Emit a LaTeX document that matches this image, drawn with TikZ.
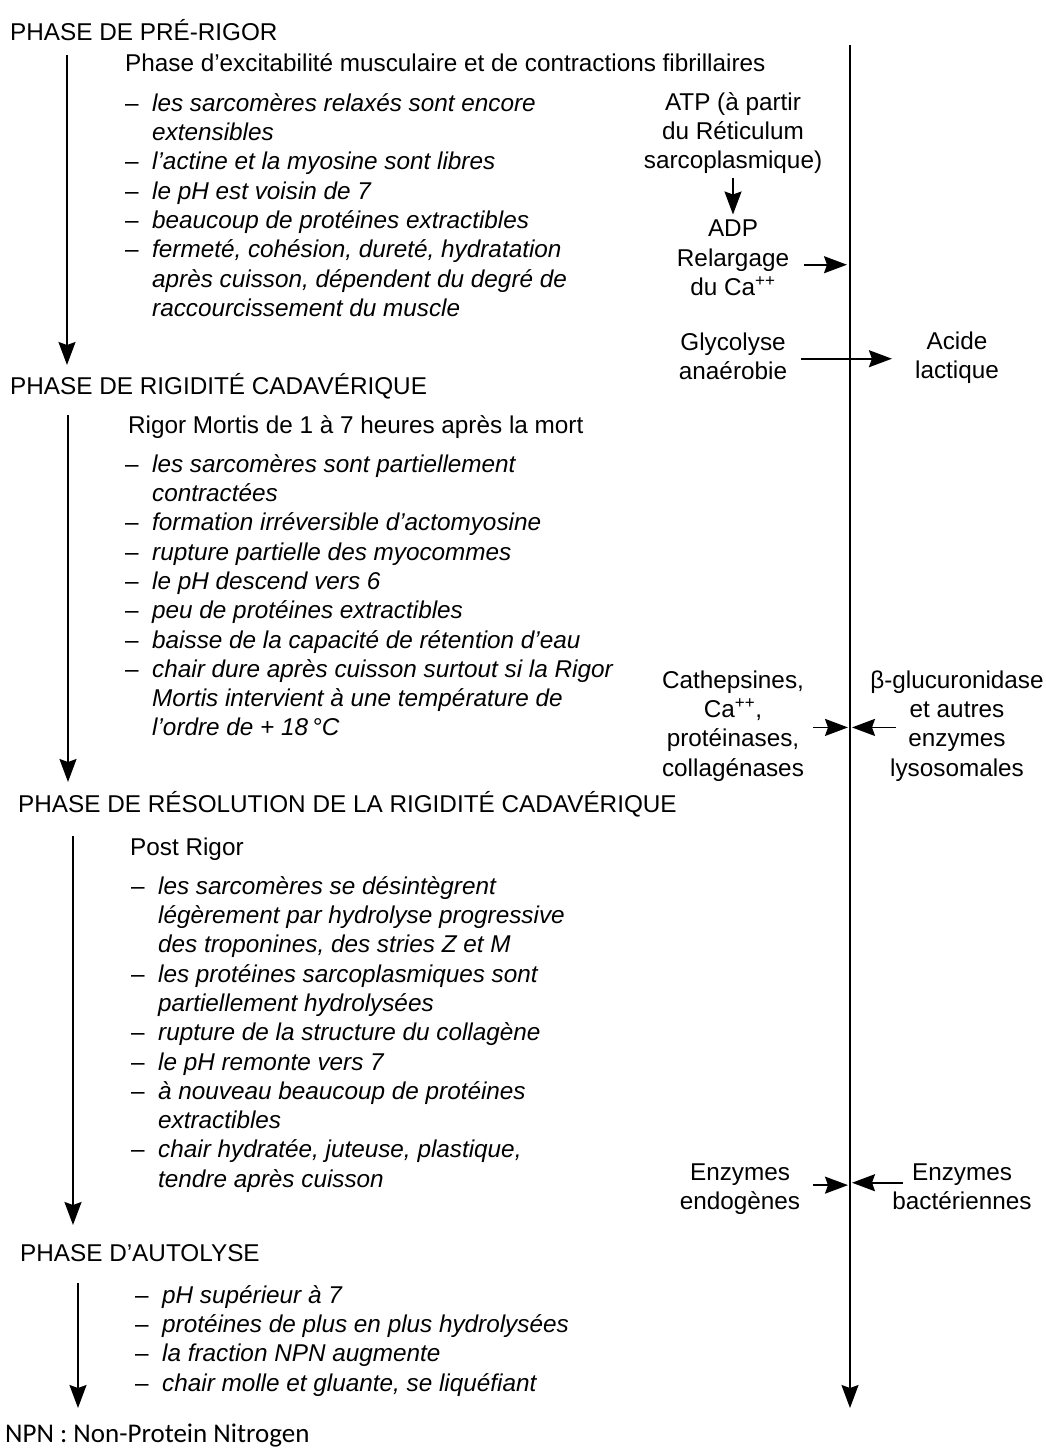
\documentclass[tikz,border=0pt]{standalone}
\usepackage{fontspec}
\setmainfont{Liberation Sans}
\newfontfamily\notefont{Carlito}
\usetikzlibrary{arrows.meta}
\tikzstyle{phase}=[anchor=base west,inner sep=0pt]
\tikzstyle{subtitle}=[anchor=base west,inner sep=0pt]
\tikzstyle{items}=[anchor=north west,inner sep=0pt,align=left,font=\itshape]
\tikzstyle{agent}=[anchor=north,inner sep=0pt,align=center]
\tikzstyle{note}=[anchor=base west,inner sep=0pt,font=\notefont\fontsize{27}{32}\selectfont]
\tikzstyle{flow}=[line width=1.8pt,-{Stealth[length=23pt,width=17pt,inset=3pt]}]
\newcommand{\tiret}{\strut\llap{\upshape--\hspace{13.5pt}}}

\begin{document}
\fontsize{24.3}{29.3}\selectfont
\begin{tikzpicture}[x=1pt,y=-1pt]
  \useasboundingbox (0,0) rectangle (1045,1450);
  \coordinate (haut) at (850,45);
  \coordinate (bas) at (850,1408);
  \coordinate (fin) at (78,1408);

  % pre-rigor
  \node[phase] (pre) at (10,41) {PHASE DE PRÉ-RIGOR};
  \node[subtitle] (excit) at (125,72) {Phase d'excitabilité musculaire et de contractions fibrillaires};
  \node[items] (lpre) at (152,90.5) {\tiret les sarcomères relaxés sont encore\\ extensibles\\ \tiret l'actine et la myosine sont libres\\ \tiret le pH est voisin de 7\\ \tiret beaucoup de protéines extractibles\\ \tiret fermeté, cohésion, dureté, hydratation\\ après cuisson, dépendent du degré de\\ raccourcissement du muscle};
  \node[agent] (atp) at (733,89.5) {\strut ATP (à partir\\du Réticulum\\sarcoplasmique)};
  \node[agent] (adp) at (733,215.5) {\strut ADP};
  \node[agent] (relarg) at (733,245.5) {\strut Relargage\\du Ca\textsuperscript{++}};
  \node[agent] (glyco) at (733,329.5) {\strut Glycolyse\\anaérobie};
  \node[agent] (acide) at (957,328.5) {\strut Acide\\lactique};

  % rigidite cadaverique
  \node[phase] (rigid) at (10,394) {PHASE DE RIGIDITÉ CADAVÉRIQUE};
  \node[subtitle] (rigor) at (128,433) {Rigor Mortis de 1 à 7 heures après la mort};
  \node[items] (lrigid) at (152,451.5) {\tiret les sarcomères sont partiellement\\ contractées\\ \tiret formation irréversible d'actomyosine\\ \tiret rupture partielle des myocommes\\ \tiret le pH descend vers 6\\ \tiret peu de protéines extractibles\\ \tiret baisse de la capacité de rétention d'eau\\ \tiret chair dure après cuisson surtout si la Rigor\\ Mortis intervient à une température de\\ l'ordre de + 18\,°C};
  \node[agent] (cath) at (733,667.5) {\strut Cathepsines,\\Ca\textsuperscript{++},\\protéinases,\\collagénases};
  \node[agent] (lyso) at (957,667.5) {\strut β-glucuronidase\\et autres\\enzymes\\lysosomales};

  % resolution
  \node[phase] (resol) at (18,812) {PHASE DE RÉSOLUTION DE LA RIGIDITÉ CADAVÉRIQUE};
  \node[subtitle] (post) at (130,855) {Post Rigor};
  \node[items] (lresol) at (158,873.5) {\tiret les sarcomères se désintègrent\\ légèrement par hydrolyse progressive\\ des troponines, des stries Z et M\\ \tiret les protéines sarcoplasmiques sont\\ partiellement hydrolysées\\ \tiret rupture de la structure du collagène\\ \tiret le pH remonte vers 7\\ \tiret à nouveau beaucoup de protéines\\ extractibles\\ \tiret chair hydratée, juteuse, plastique,\\ tendre après cuisson};
  \node[agent] (endo) at (740,1159.5) {\strut Enzymes\\endogènes};
  \node[agent] (bact) at (962,1159.5) {\strut Enzymes\\bactériennes};

  % autolyse
  \node[phase] (autol) at (20,1261) {PHASE D'AUTOLYSE};
  \node[items] (lautol) at (162,1282.5) {\tiret pH supérieur à 7\\ \tiret protéines de plus en plus hydrolysées\\ \tiret la fraction NPN augmente\\ \tiret chair molle et gluante, se liquéfiant};
  \node[note] (npn) at (5,1442) {NPN : Non-Protein Nitrogen};

  % time arrows
  \draw[flow] ([shift={(57,14)}]pre.base west) -- ([shift={(57,-29)}]rigid.base west);
  \draw[flow] ([shift={(58,21)}]rigid.base west) -- ([shift={(50,-30)}]resol.base west);
  \draw[flow] ([shift={(55,24)}]resol.base west) -- ([shift={(53,-36)}]autol.base west);
  \draw[flow] ([shift={(58,22)}]autol.base west) -- (fin);
  \draw[flow] (haut) -- (bas);

  % biochemistry
  \draw[flow,shorten <=4pt,shorten >=1pt] (atp) -- (adp);
  \draw[flow,shorten >=3pt] ([shift={(15,-6)}]relarg.east) coordinate (r0) -- (r0 -| bas);
  \draw[flow,shorten >=23pt] ([shift={(14,4)}]glyco.east) coordinate (g0) -- (g0 -| acide.west);
  \draw[flow,shorten >=2pt] ([shift={(9,3)}]cath.east) coordinate (c0) -- (c0 -| bas);
  \draw[flow,shorten >=2pt] ([shift={(26,3)}]lyso.west) coordinate (l0) -- (l0 -| bas);
  \draw[flow,shorten >=2pt] ([shift={(13,-2)}]endo.east) coordinate (e0) -- (e0 -| bas);
  \draw[flow,shorten >=2pt] ([shift={(11,-2)}]bact.west) coordinate (b0) -- (b0 -| bas);
\end{tikzpicture}
\end{document}
